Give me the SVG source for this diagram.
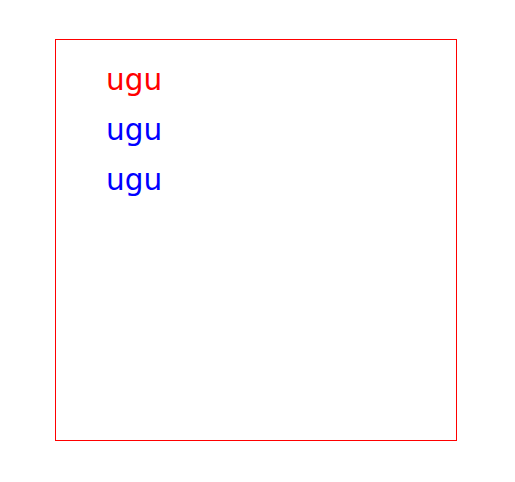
<svg xmlns="http://www.w3.org/2000/svg" width="515" height="482" viewBox="0 0 515 482">
<style>
.t{font-family:"DejaVu Sans",sans-serif;font-size:29.5px}
</style>
<rect width="515" height="482" fill="#fff"/>
<g id="frame"><rect x="55.5" y="39.5" width="401" height="401" fill="none" stroke="#f00" stroke-width="1"/></g>
<g id="label1"><text class="t" x="106" y="90" fill="#f00">ugu</text></g>
<g id="label2"><text class="t" x="106" y="140" fill="#00f">ugu</text></g>
<g id="label3"><text class="t" x="106" y="190" fill="#00f">ugu</text></g>
<g id="connectors"></g>
</svg>
